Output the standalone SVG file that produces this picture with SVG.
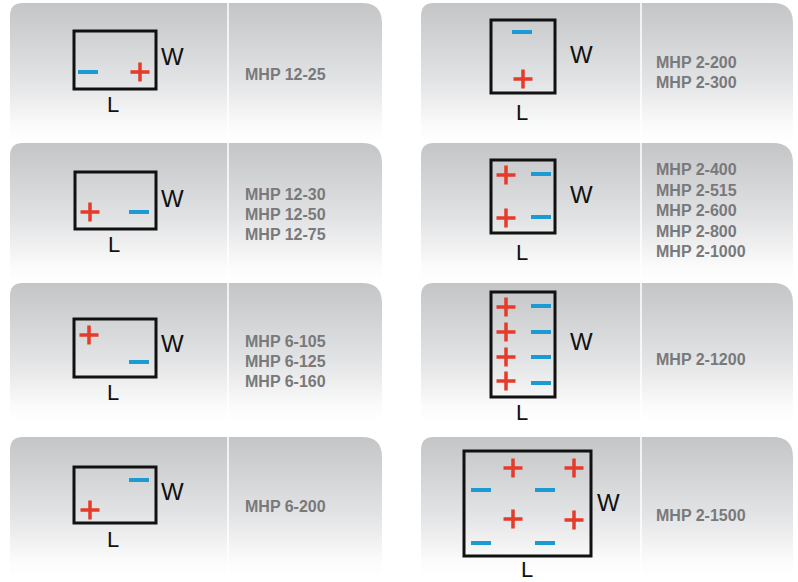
<svg xmlns="http://www.w3.org/2000/svg" xmlns:xlink="http://www.w3.org/1999/xlink" width="798" height="582" viewBox="0 0 798 582">
<defs>
<linearGradient id="g" x1="0" y1="0" x2="0" y2="1">
<stop offset="0" stop-color="#c4c5c7"/>
<stop offset="0.55" stop-color="#e2e3e4"/>
<stop offset="0.88" stop-color="#fbfbfb"/>
<stop offset="1" stop-color="#ffffff"/>
</linearGradient>
<path id="plus" d="M-9.5 0h19M0-9.5v19"/>
<path id="minus" d="M-10 0h20"/>
<path id="card" d="M0 140V13Q0 0 13 0H352Q372 0 372 20V140Z"/>
</defs>
<style>
.card{fill:url(#g)}
.dv{stroke:#ffffff;stroke-width:1.5}
.box{fill:none;stroke:#111111;stroke-width:3}
.p{stroke:#e53b2a;stroke-width:3.5;fill:none}
.m{stroke:#1c9ad4;stroke-width:4;fill:none}
.lb{font-family:"Liberation Sans",Arial,sans-serif;font-size:24px;fill:#111111}
.ll{font-family:"Liberation Sans",Arial,sans-serif;font-size:22px;fill:#111111}
.t{font-family:"Liberation Sans",Arial,sans-serif;font-weight:bold;font-size:16px;fill:#78797b}
</style>
<rect width="798" height="582" fill="#ffffff"/>

<g id="card-12-25">
<use xlink:href="#card" class="card" x="10" y="3"/>
<line class="dv" x1="228" y1="3" x2="228" y2="143"/>
<rect class="box" x="74" y="31" width="82" height="58"/>
<use xlink:href="#minus" class="m" x="88" y="72"/>
<use xlink:href="#plus" class="p" x="140" y="72"/>
<text class="lb" x="161" y="65">W</text>
<text class="ll" x="107" y="112">L</text>
<text class="t" x="245" y="80">MHP 12-25</text>
</g>

<g id="card-2-200">
<use xlink:href="#card" class="card" x="421" y="3"/>
<line class="dv" x1="641" y1="3" x2="641" y2="143"/>
<rect class="box" x="491" y="20" width="64" height="73"/>
<use xlink:href="#minus" class="m" x="522" y="32"/>
<use xlink:href="#plus" class="p" x="523" y="79"/>
<text class="lb" x="570" y="63">W</text>
<text class="ll" x="516" y="120">L</text>
<text class="t" x="656" y="68">MHP 2-200</text>
<text class="t" x="656" y="88">MHP 2-300</text>
</g>

<g id="card-12-30">
<use xlink:href="#card" class="card" x="10" y="143"/>
<line class="dv" x1="228" y1="143" x2="228" y2="283"/>
<rect class="box" x="75" y="172" width="81" height="57"/>
<use xlink:href="#plus" class="p" x="90" y="212"/>
<use xlink:href="#minus" class="m" x="139" y="212"/>
<text class="lb" x="161" y="207">W</text>
<text class="ll" x="108" y="252">L</text>
<text class="t" x="245" y="200">MHP 12-30</text>
<text class="t" x="245" y="220">MHP 12-50</text>
<text class="t" x="245" y="240">MHP 12-75</text>
</g>

<g id="card-2-400">
<use xlink:href="#card" class="card" x="421" y="143"/>
<line class="dv" x1="641" y1="143" x2="641" y2="283"/>
<rect class="box" x="491" y="160" width="64" height="73"/>
<use xlink:href="#plus" class="p" x="506" y="175"/>
<use xlink:href="#minus" class="m" x="541" y="174"/>
<use xlink:href="#plus" class="p" x="506" y="218"/>
<use xlink:href="#minus" class="m" x="541" y="217"/>
<text class="lb" x="570" y="203">W</text>
<text class="ll" x="516" y="260">L</text>
<text class="t" x="656" y="175">MHP 2-400</text>
<text class="t" x="656" y="195.5">MHP 2-515</text>
<text class="t" x="656" y="216">MHP 2-600</text>
<text class="t" x="656" y="236.5">MHP 2-800</text>
<text class="t" x="656" y="257">MHP 2-1000</text>
</g>

<g id="card-6-105">
<use xlink:href="#card" class="card" x="10" y="283"/>
<line class="dv" x1="228" y1="283" x2="228" y2="423"/>
<rect class="box" x="74" y="319" width="82" height="58"/>
<use xlink:href="#plus" class="p" x="89" y="335"/>
<use xlink:href="#minus" class="m" x="139" y="362"/>
<text class="lb" x="161" y="352">W</text>
<text class="ll" x="107" y="400">L</text>
<text class="t" x="245" y="347">MHP 6-105</text>
<text class="t" x="245" y="367">MHP 6-125</text>
<text class="t" x="245" y="387">MHP 6-160</text>
</g>

<g id="card-2-1200">
<use xlink:href="#card" class="card" x="421" y="283"/>
<line class="dv" x1="641" y1="283" x2="641" y2="423"/>
<rect class="box" x="491" y="292" width="64" height="105"/>
<use xlink:href="#plus" class="p" x="506" y="307"/>
<use xlink:href="#plus" class="p" x="506" y="332"/>
<use xlink:href="#plus" class="p" x="506" y="357"/>
<use xlink:href="#plus" class="p" x="506" y="381"/>
<use xlink:href="#minus" class="m" x="541" y="306"/>
<use xlink:href="#minus" class="m" x="541" y="332"/>
<use xlink:href="#minus" class="m" x="541" y="357"/>
<use xlink:href="#minus" class="m" x="541" y="383"/>
<text class="lb" x="570" y="350">W</text>
<text class="ll" x="516" y="420">L</text>
<text class="t" x="656" y="365">MHP 2-1200</text>
</g>

<g id="card-6-200">
<use xlink:href="#card" class="card" x="10" y="437"/>
<line class="dv" x1="228" y1="437" x2="228" y2="577"/>
<rect class="box" x="74" y="467" width="82" height="56"/>
<use xlink:href="#minus" class="m" x="139" y="480"/>
<use xlink:href="#plus" class="p" x="90" y="510"/>
<text class="lb" x="161" y="500">W</text>
<text class="ll" x="107" y="547">L</text>
<text class="t" x="245" y="512">MHP 6-200</text>
</g>

<g id="card-2-1500">
<use xlink:href="#card" class="card" x="421" y="437"/>
<line class="dv" x1="641" y1="437" x2="641" y2="577"/>
<rect class="box" x="464" y="451" width="127" height="105"/>
<use xlink:href="#plus" class="p" x="513" y="468"/>
<use xlink:href="#plus" class="p" x="574" y="468"/>
<use xlink:href="#plus" class="p" x="513" y="519"/>
<use xlink:href="#plus" class="p" x="574" y="520"/>
<use xlink:href="#minus" class="m" x="481" y="490"/>
<use xlink:href="#minus" class="m" x="545" y="490"/>
<use xlink:href="#minus" class="m" x="481" y="543"/>
<use xlink:href="#minus" class="m" x="545" y="543"/>
<text class="lb" x="597" y="511">W</text>
<text class="ll" x="521" y="577">L</text>
<text class="t" x="656" y="521">MHP 2-1500</text>
</g>
</svg>
